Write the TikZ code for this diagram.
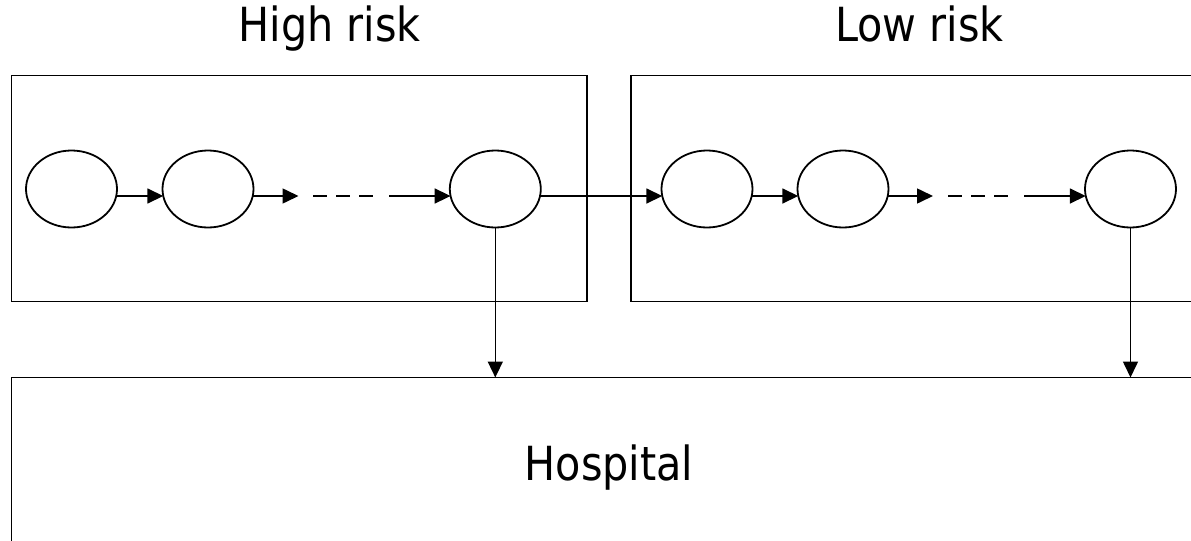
\documentclass[tikz,border=0pt]{standalone}
\usepackage{fontspec}
\setmainfont{DejaVu Sans}[FakeStretch=0.88]
\usetikzlibrary{arrows.meta,shapes.geometric,calc}
\begin{document}
\begin{tikzpicture}[x=0.5pt,y=-0.5pt,
  line width=0.9pt,
  state/.style={draw,ellipse,inner sep=0pt,outer sep=0pt,minimum width=45.5pt,minimum height=38.5pt},
  region/.style={draw,rectangle,inner sep=0pt,outer sep=0pt},
  title/.style={anchor=base,inner sep=0pt,font=\fontsize{23.5pt}{28pt}\selectfont},
  flow/.style={line width=0.8pt,-{Triangle[length=8pt,width=7.5pt]}},
  gapdash/.style={line width=0.8pt,dash pattern=on 7pt off 4.5pt}
]
\useasboundingbox (0,0) rectangle (1191,541);
\clip (0,0) rectangle (1191,541);

% region boxes
\node[region,minimum width=287.75pt,minimum height=113pt] (high) at (299.25,188.5) {};
\node[region,minimum width=290pt,minimum height=113pt] (low) at (921,188.5) {};
\node[region,minimum width=597.5pt,minimum height=85.5pt] (hosp) at (609,463) {};

% titles
\node[title] (thigh) at (329.5,41.7) {High risk};
\node[title] (tlow) at (919.5,41.7) {Low risk};
\node[title] (thosp) at (609,480) {Hospital};

% states
\node[state] (c1) at (71.5,189) {};
\node[state] (c2) at (208,189) {};
\node[state] (c3) at (495.3,189) {};
\node[state] (c4) at (707,189) {};
\node[state] (c5) at (843,189) {};
\node[state] (c6) at (1130.5,189) {};

% dotted-chain coordinates
\coordinate (a1) at (298.5,196);
\coordinate (a2) at (313,196);
\coordinate (a3) at (373,196);
\coordinate (a4) at (389,196);
\coordinate (b1) at (933,196);
\coordinate (b2) at (948,196);
\coordinate (b3) at (1008,196);
\coordinate (b4) at (1024,196);

% high-risk chain
\draw[flow] ($(c1.center)+(44.7,7)$) -- ($(c2.center)+(-44.7,7)$);
\draw[flow] ($(c2.center)+(44.7,7)$) -- (a1);
\draw[gapdash] (a2) -- (a3);
\draw[flow] (a4) -- ($(c3.center)+(-44.7,7)$);
\draw[flow] ($(c3.center)+(44.7,7)$) -- ($(c4.center)+(-44.7,7)$);

% low-risk chain
\draw[flow] ($(c4.center)+(44.7,7)$) -- ($(c5.center)+(-44.7,7)$);
\draw[flow] ($(c5.center)+(44.7,7)$) -- (b1);
\draw[gapdash] (b2) -- (b3);
\draw[flow] (b4) -- ($(c6.center)+(-44.7,7)$);

% to hospital
\draw[flow] (c3.south) -- (c3.south |- hosp.north);
\draw[flow] (c6.south) -- (c6.south |- hosp.north);
\end{tikzpicture}
\end{document}
